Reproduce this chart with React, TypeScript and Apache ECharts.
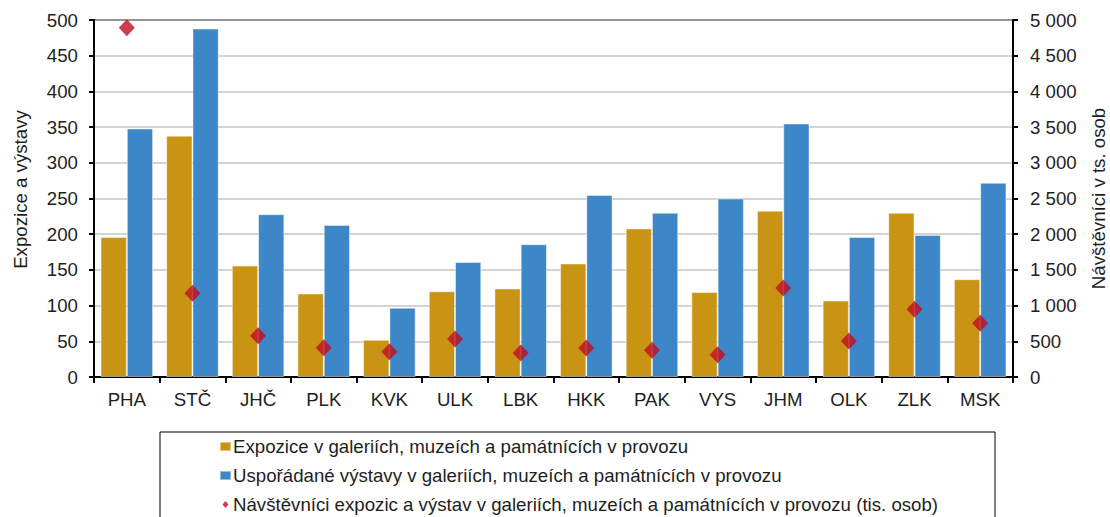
import React, { useEffect, useRef } from "react";
import * as echarts from "echarts";

const categories = ["PHA", "STČ", "JHČ", "PLK", "KVK", "ULK", "LBK", "HKK", "PAK", "VYS", "JHM", "OLK", "ZLK", "MSK"];
const expozice = [196, 338, 156, 117, 52, 120, 124, 159, 208, 119, 233, 107, 230, 137];
const vystavy = [348, 488, 228, 213, 97, 161, 186, 255, 230, 250, 355, 196, 199, 272];
const navstevnici = [4890, 1172, 578, 410, 354, 532, 336, 406, 374, 312, 1246, 504, 948, 752];
const leftTicks = { min: 0, max: 500, interval: 50 };
const rightTicks = { min: 0, max: 5000, interval: 500 };

const nameExpozice = "Expozice v galeriích, muzeích a památnících v provozu";
const nameVystavy = "Uspořádané výstavy v galeriích, muzeích a památnících v provozu";
const nameNavst = "Návštěvníci expozic a výstav v galeriích, muzeích a památnících v provozu (tis. osob)";

const FONT = "'Liberation Sans', Arial, sans-serif";
const FS = 18.67;
const TXT = "#1e1e1e";

export default function App() {
  const ref = useRef<HTMLDivElement>(null);
  useEffect(() => {
    document.body.style.margin = "0";
    const chart = echarts.init(ref.current!, null, { renderer: "svg" });
    chart.setOption({
      animation: false,
      textStyle: { fontFamily: FONT },
      grid: {
        left: 94,
        right: 97,
        top: 20,
        bottom: 140,
        containLabel: false,
        outerBoundsMode: "none",
        show: true,
        borderColor: "#000",
        borderWidth: 2,
      },
      xAxis: {
        type: "category",
        data: categories,
        axisLine: { lineStyle: { color: "#000", width: 2 } },
        axisTick: { show: true, length: 6, lineStyle: { color: "#000", width: 2 } },
        axisLabel: { color: TXT, fontSize: FS, margin: 13, fontFamily: FONT },
      },
      yAxis: [
        {
          type: "value",
          ...leftTicks,
          name: "Expozice a výstavy",
          nameLocation: "middle",
          nameGap: 64,
          nameRotate: 90,
          nameTextStyle: { color: TXT, fontSize: FS, fontFamily: FONT, padding: [0, 0, 0, 18] },
          axisLine: { show: true, lineStyle: { color: "#000", width: 2 } },
          axisTick: { show: true, length: 5, lineStyle: { color: "#000", width: 2 } },
          axisLabel: { color: TXT, fontSize: FS, margin: 16, fontFamily: FONT },
          splitLine: { show: true, lineStyle: { color: "#c6c6c6", width: 1.5 } },
        },
        {
          type: "value",
          ...rightTicks,
          name: "Návštěvníci v ts. osob",
          nameLocation: "middle",
          nameGap: 76,
          nameRotate: 90,
          nameTextStyle: { color: TXT, fontSize: FS, fontFamily: FONT },
          axisLine: { show: true, lineStyle: { color: "#000", width: 2 } },
          axisTick: { show: true, length: 5, lineStyle: { color: "#000", width: 2 } },
          axisLabel: {
            color: TXT,
            fontSize: FS,
            margin: 17,
            fontFamily: FONT,
            formatter: (v: number) => String(v).replace(/\B(?=(\d{3})+(?!\d))/g, " "),
          },
          splitLine: { show: false },
        },
      ],
      legend: {
        orient: "vertical",
        left: 219,
        top: 437,
        height: 140,
        width: 800,
        padding: 0,
        itemGap: 10,
        itemWidth: 11,
        itemHeight: 9,
        textStyle: { color: TXT, fontSize: FS, fontFamily: FONT, padding: [0, 0, 0, -3] },
        data: [
          { name: nameExpozice, icon: "rect" },
          { name: nameVystavy, icon: "rect" },
          { name: nameNavst, icon: "path://M0,0 M11,0 M0,9 M11,9 M5.5,1 L8.5,4.5 L5.5,8 L2.5,4.5 Z" },
        ],
      },
      graphic: [
        {
          type: "rect",
          shape: { x: 160, y: 432, width: 835, height: 100 },
          style: { fill: "none", stroke: "#000", lineWidth: 1 },
          silent: true,
        },
      ],
      series: [
        {
          name: nameExpozice,
          type: "bar",
          data: expozice,
          barGap: "0%",
          barCategoryGap: "20%",
          itemStyle: { color: "#C99413", borderColor: "rgba(255,255,255,0.45)", borderWidth: 1 },
        },
        {
          name: nameVystavy,
          type: "bar",
          data: vystavy,
          barGap: "0%",
          barCategoryGap: "20%",
          itemStyle: { color: "#3D87C8", borderColor: "rgba(255,255,255,0.45)", borderWidth: 1 },
        },
        {
          name: nameNavst,
          type: "scatter",
          yAxisIndex: 1,
          data: navstevnici,
          symbol: "diamond",
          symbolSize: [16, 17],
          itemStyle: { color: "#C00D1E" },
          z: 5,
        },
      ],
    });
    return () => chart.dispose();
  }, []);
  return <div ref={ref} style={{ width: 1110, height: 517 }} />;
}
